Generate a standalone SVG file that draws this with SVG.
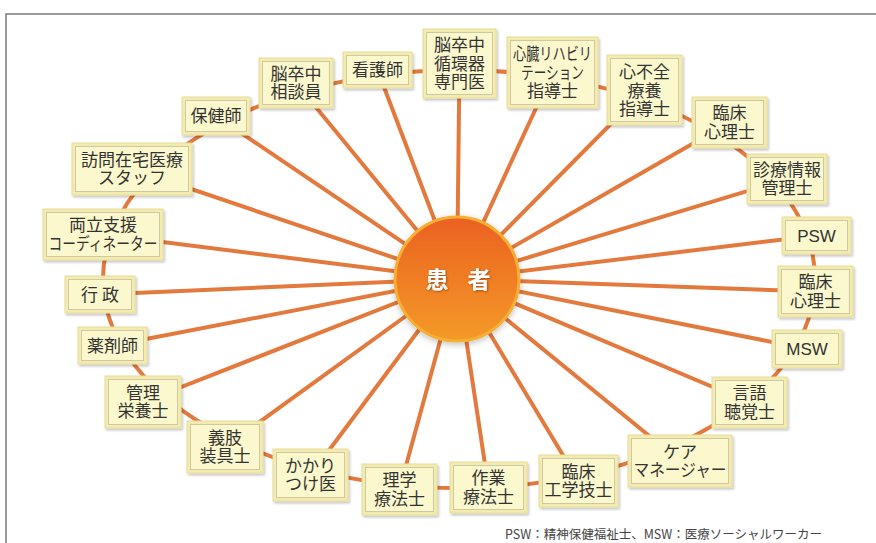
<svg xmlns="http://www.w3.org/2000/svg" width="876" height="543" viewBox="0 0 876 543">
<defs>
<style>
.frame{fill:none;stroke:#7a7a7a;stroke-width:1.5}
.ring{fill:none;stroke:#E3793D;stroke-width:4}
.sp{stroke:#E3793D;stroke-width:4;stroke-linecap:butt}
.bo{fill:#F4EBAE;stroke:#E6DC9C;stroke-width:1;filter:url(#sh)}
.bi{fill:#FCF8CD;stroke:#CFC8A4;stroke-width:1}
.t{font-family:"Noto Sans CJK JP","Liberation Sans",sans-serif;font-size:17px;fill:#333;text-anchor:middle}
.l{font-family:"Liberation Sans","Noto Sans CJK JP",sans-serif;font-size:17px;fill:#333;text-anchor:middle}
.c{font-family:"Noto Sans CJK JP",sans-serif;font-size:23px;font-weight:bold;fill:#fff;text-anchor:middle;filter:url(#ts)}
.note{font-family:"Noto Sans CJK JP","Liberation Sans",sans-serif;font-size:12.5px;fill:#444}
</style>
<filter id="sh" x="-20%" y="-20%" width="140%" height="140%">
<feDropShadow dx="1.5" dy="2" stdDeviation="1.2" flood-color="#000" flood-opacity="0.22"/>
</filter>
<filter id="ts" x="-20%" y="-20%" width="140%" height="140%">
<feDropShadow dx="1" dy="1" stdDeviation="1" flood-color="#7a2a00" flood-opacity="0.6"/>
</filter>
<filter id="glow" x="-30%" y="-30%" width="160%" height="160%">
<feDropShadow dx="0" dy="2" stdDeviation="3" flood-color="#000" flood-opacity="0.25"/>
</filter>
<linearGradient id="cg" x1="0" y1="0" x2="0" y2="1">
<stop offset="0" stop-color="#EB6120"/>
<stop offset="1" stop-color="#F49A28"/>
</linearGradient>
</defs>
<rect width="876" height="543" fill="#fff"/>
<path class="frame" d="M6,543 V14 H876"/>
<g id="connectors">
<ellipse class="ring" cx="459" cy="279" rx="356" ry="209"/>
<line class="sp" x1="457" y1="279" x2="459.5" y2="63.5"/>
<line class="sp" x1="457" y1="279" x2="377.5" y2="70"/>
<line class="sp" x1="457" y1="279" x2="296" y2="83"/>
<line class="sp" x1="457" y1="279" x2="216" y2="116"/>
<line class="sp" x1="457" y1="279" x2="552.5" y2="72.5"/>
<line class="sp" x1="457" y1="279" x2="644.5" y2="90"/>
<line class="sp" x1="457" y1="279" x2="729.5" y2="122.5"/>
<line class="sp" x1="457" y1="279" x2="132" y2="169"/>
<line class="sp" x1="457" y1="279" x2="103" y2="234.5"/>
<line class="sp" x1="457" y1="279" x2="100" y2="294.5"/>
<line class="sp" x1="457" y1="279" x2="112.5" y2="345.5"/>
<line class="sp" x1="457" y1="279" x2="143" y2="402"/>
<line class="sp" x1="457" y1="279" x2="225" y2="447"/>
<line class="sp" x1="457" y1="279" x2="310.5" y2="475"/>
<line class="sp" x1="457" y1="279" x2="399.5" y2="489.5"/>
<line class="sp" x1="457" y1="279" x2="488.5" y2="487.5"/>
<line class="sp" x1="457" y1="279" x2="578.5" y2="481"/>
<line class="sp" x1="457" y1="279" x2="680" y2="461"/>
<line class="sp" x1="457" y1="279" x2="749.5" y2="402.5"/>
<line class="sp" x1="457" y1="279" x2="787" y2="179"/>
<line class="sp" x1="457" y1="279" x2="816.5" y2="235.5"/>
<line class="sp" x1="457" y1="279" x2="815.5" y2="291.5"/>
<line class="sp" x1="457" y1="279" x2="807" y2="349"/>
</g>
<g id="patient">
<circle cx="457" cy="279" r="62" fill="url(#cg)" stroke="#F7AE35" stroke-width="3" filter="url(#glow)"/>
<text class="c" x="458" y="288">患<tspan dx="19">者</tspan></text>
</g>
<g id="n1"><rect class="bo" x="423" y="29" width="73" height="69"/><rect class="bi" x="426.5" y="32.5" width="66" height="62"/>
<text class="t" x="459.5" y="51">脳卒中<tspan x="459.5" dy="18.5">循環器</tspan><tspan x="459.5" dy="18.5">専門医</tspan></text></g>
<g id="n2"><rect class="bo" x="343" y="52" width="69" height="36"/><rect class="bi" x="346.5" y="55.5" width="62" height="29"/>
<text class="t" x="377.5" y="76">看護師</text></g>
<g id="n3"><rect class="bo" x="259" y="58" width="74" height="50"/><rect class="bi" x="262.5" y="61.5" width="67" height="43"/>
<text class="t" x="296" y="79.5">脳卒中<tspan x="296" dy="18.5">相談員</tspan></text></g>
<g id="n4"><rect class="bo" x="182" y="97" width="68" height="38"/><rect class="bi" x="185.5" y="100.5" width="61" height="31"/>
<text class="t" x="216" y="122">保健師</text></g>
<g id="n5"><rect class="bo" x="507" y="37" width="91" height="71"/><rect class="bi" x="510.5" y="40.5" width="84" height="64"/>
<text class="t" x="552.5" y="60"><tspan textLength="79" lengthAdjust="spacingAndGlyphs">心臓リハビリ</tspan><tspan x="552.5" dy="18.5" textLength="63" lengthAdjust="spacingAndGlyphs">テーション</tspan><tspan x="552.5" dy="18.5">指導士</tspan></text></g>
<g id="n6"><rect class="bo" x="607" y="55" width="75" height="70"/><rect class="bi" x="610.5" y="58.5" width="68" height="63"/>
<text class="t" x="644.5" y="78">心不全<tspan x="644.5" dy="18.5">療養</tspan><tspan x="644.5" dy="18.5">指導士</tspan></text></g>
<g id="n7"><rect class="bo" x="692" y="97" width="75" height="51"/><rect class="bi" x="695.5" y="100.5" width="68" height="44"/>
<text class="t" x="729.5" y="119">臨床<tspan x="729.5" dy="18.5">心理士</tspan></text></g>
<g id="n8"><rect class="bo" x="72" y="143" width="120" height="52"/><rect class="bi" x="75.5" y="146.5" width="113" height="45"/>
<text class="t" x="132" y="165.5">訪問在宅医療<tspan x="132" dy="18.5">スタッフ</tspan></text></g>
<g id="n9"><rect class="bo" x="43" y="209" width="120" height="51"/><rect class="bi" x="46.5" y="212.5" width="113" height="44"/>
<text class="t" x="103" y="231">両立支援<tspan x="103" dy="18.5" textLength="109" lengthAdjust="spacingAndGlyphs">コーディネーター</tspan></text></g>
<g id="n10"><rect class="bo" x="65" y="276" width="70" height="37"/><rect class="bi" x="68.5" y="279.5" width="63" height="30"/>
<text class="t" x="100" y="300.5">行 政</text></g>
<g id="n11"><rect class="bo" x="78" y="327" width="69" height="37"/><rect class="bi" x="81.5" y="330.5" width="62" height="30"/>
<text class="t" x="112.5" y="351.5">薬剤師</text></g>
<g id="n12"><rect class="bo" x="105" y="376" width="76" height="52"/><rect class="bi" x="108.5" y="379.5" width="69" height="45"/>
<text class="t" x="143" y="398.5">管理<tspan x="143" dy="18.5">栄養士</tspan></text></g>
<g id="n13"><rect class="bo" x="187" y="421" width="76" height="52"/><rect class="bi" x="190.5" y="424.5" width="69" height="45"/>
<text class="t" x="225" y="443.5">義肢<tspan x="225" dy="18.5">装具士</tspan></text></g>
<g id="n14"><rect class="bo" x="273" y="449" width="75" height="52"/><rect class="bi" x="276.5" y="452.5" width="68" height="45"/>
<text class="t" x="310.5" y="471.5">かかり<tspan x="310.5" dy="18.5">つけ医</tspan></text></g>
<g id="n15"><rect class="bo" x="362" y="464" width="75" height="51"/><rect class="bi" x="365.5" y="467.5" width="68" height="44"/>
<text class="t" x="399.5" y="486">理学<tspan x="399.5" dy="18.5">療法士</tspan></text></g>
<g id="n16"><rect class="bo" x="450" y="462" width="77" height="51"/><rect class="bi" x="453.5" y="465.5" width="70" height="44"/>
<text class="t" x="488.5" y="484">作業<tspan x="488.5" dy="18.5">療法士</tspan></text></g>
<g id="n17"><rect class="bo" x="539" y="455" width="79" height="52"/><rect class="bi" x="542.5" y="458.5" width="72" height="45"/>
<text class="t" x="578.5" y="477.5">臨床<tspan x="578.5" dy="18.5">工学技士</tspan></text></g>
<g id="n18"><rect class="bo" x="628" y="435" width="104" height="52"/><rect class="bi" x="631.5" y="438.5" width="97" height="45"/>
<text class="t" x="680" y="457.5">ケア<tspan x="680" dy="18.5" textLength="93" lengthAdjust="spacingAndGlyphs">マネージャー</tspan></text></g>
<g id="n19"><rect class="bo" x="712" y="377" width="75" height="51"/><rect class="bi" x="715.5" y="380.5" width="68" height="44"/>
<text class="t" x="749.5" y="399">言語<tspan x="749.5" dy="18.5">聴覚士</tspan></text></g>
<g id="n20"><rect class="bo" x="747" y="154" width="80" height="50"/><rect class="bi" x="750.5" y="157.5" width="73" height="43"/>
<text class="t" x="787" y="175.5">診療情報<tspan x="787" dy="18.5">管理士</tspan></text></g>
<g id="n21"><rect class="bo" x="782" y="217" width="69" height="37"/><rect class="bi" x="785.5" y="220.5" width="62" height="30"/>
<text class="l" x="816.5" y="241.5">PSW</text></g>
<g id="n22"><rect class="bo" x="778" y="266" width="75" height="51"/><rect class="bi" x="781.5" y="269.5" width="68" height="44"/>
<text class="t" x="815.5" y="288">臨床<tspan x="815.5" dy="18.5">心理士</tspan></text></g>
<g id="n23"><rect class="bo" x="772" y="330" width="70" height="38"/><rect class="bi" x="775.5" y="333.5" width="63" height="31"/>
<text class="l" x="807" y="355">MSW</text></g>
<text class="note" x="505" y="539">PSW：精神保健福祉士、MSW：医療ソーシャルワーカー</text>
</svg>
